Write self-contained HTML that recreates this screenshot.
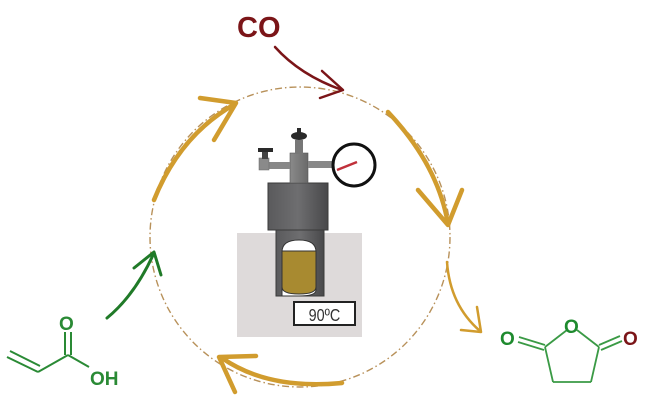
<!DOCTYPE html>
<html><head><meta charset="utf-8"><style>
html,body{margin:0;padding:0;background:#fff;}
svg{display:block;}
text{font-family:"Liberation Sans",sans-serif;font-weight:bold;}
</style></head><body>
<svg width="648" height="414" viewBox="0 0 648 414" xmlns="http://www.w3.org/2000/svg">
<defs>
<linearGradient id="g1" x1="0" x2="1"><stop offset="0" stop-color="#5a5a5c"/><stop offset="0.5" stop-color="#6e6e70"/><stop offset="1" stop-color="#48484a"/></linearGradient>
<linearGradient id="g2" x1="0" x2="1"><stop offset="0" stop-color="#8a8a8a"/><stop offset="1" stop-color="#6a6a6a"/></linearGradient>
</defs>
<circle cx="300" cy="237" r="150" fill="none" stroke="#b8915a" stroke-width="1.4" stroke-dasharray="7 3 1.5 3"/>
<rect x="237" y="233" width="125" height="104" fill="#dedada"/>
<rect x="276" y="228" width="48" height="68" fill="url(#g1)" stroke="#3a3a3a" stroke-width="1"/>
<path d="M282 296 L282 252 Q282 240 299 240 Q316 240 316 252 L316 290 Q316 296 299 296 Z" fill="#fff" stroke="#333" stroke-width="1"/>
<path d="M282 251 L316 251 L316 287 Q316 294 299 294 Q282 294 282 287 Z" fill="#a88a30" stroke="#333" stroke-width="1"/>
<rect x="268" y="183" width="60" height="47" fill="url(#g1)" stroke="#3a3a3a" stroke-width="1"/>
<rect x="290" y="153" width="18" height="30" fill="url(#g2)" stroke="#555" stroke-width="0.6"/>
<rect x="295" y="140" width="8" height="14" fill="#777"/>
<ellipse cx="299" cy="136" rx="8" ry="4" fill="#2a2a2a"/>
<rect x="297" y="128" width="4" height="6" fill="#2a2a2a"/>
<rect x="262" y="162" width="28" height="7" fill="#888"/>
<rect x="308" y="161" width="24" height="7" fill="#888"/>
<rect x="259" y="158" width="10" height="12" fill="#8a8a8a" stroke="#666" stroke-width="0.5"/>
<rect x="262" y="150" width="6" height="9" fill="#444"/>
<rect x="258" y="148" width="15" height="4" fill="#2a2a2a"/>
<circle cx="354" cy="165" r="21" fill="#fff" stroke="#111" stroke-width="3"/>
<line x1="337" y1="170" x2="357" y2="162" stroke="#c0303a" stroke-width="2.5"/>
<rect x="294" y="302" width="61" height="23" fill="#fff" stroke="#222" stroke-width="2"/>
<text x="324.5" y="321" font-size="18" text-anchor="middle" fill="#333" style="font-weight:normal" transform="translate(324.5 0) scale(0.8 1) translate(-324.5 0)">90ºC</text>
<g fill="none" stroke="#d19c2e" stroke-width="4.5" stroke-linecap="round" stroke-linejoin="round">
<path d="M154 200 Q180 135 235 104"/>
<path d="M200 98 L236 103 L214 140"/>
<path d="M388 112 Q438 165 448 224"/>
<path d="M418 190 L448 225 L462 190"/>
<path d="M342 383 Q268 390 222 358"/>
<path d="M256 356 L219 357 L235 392"/>
</g>
<g fill="none" stroke="#d19c2e" stroke-width="2.5" stroke-linecap="round" stroke-linejoin="round">
<path d="M447 262 Q450 305 480 331"/>
<path d="M477 307 L481 332 L461 330"/>
</g>
<g fill="none" stroke="#7b1518" stroke-width="2.5" stroke-linecap="round" stroke-linejoin="round">
<path d="M275 47 Q300 75 342 90"/>
<path d="M322 71 L343 90 L320 98"/>
</g>
<text x="237" y="37" font-size="29" fill="#7b1518">CO</text>
<g fill="none" stroke="#207a28" stroke-width="3" stroke-linecap="round" stroke-linejoin="round">
<path d="M107 318 Q135 295 154 253"/>
<path d="M134 268 L154 252 L161 275"/>
</g>
<g fill="none" stroke="#2a8a35" stroke-width="2">
<line x1="7" y1="357" x2="38" y2="372"/>
<line x1="10" y1="351" x2="40" y2="366"/>
<line x1="38" y1="372" x2="68" y2="355"/>
<line x1="65" y1="355" x2="65" y2="332"/>
<line x1="71" y1="355" x2="71" y2="332"/>
<line x1="68" y1="355" x2="89" y2="367"/>
</g>
<text x="59" y="330" font-size="19" fill="#2a8a35">O</text>
<text x="90" y="385" font-size="19" fill="#2a8a35">OH</text>
<g fill="none" stroke="#3a9a45" stroke-width="1.8">
<line x1="567" y1="330" x2="545" y2="347"/>
<line x1="577" y1="330" x2="599" y2="347"/>
<line x1="545" y1="347" x2="553" y2="382"/>
<line x1="599" y1="347" x2="591" y2="382"/>
<line x1="553" y1="382" x2="591" y2="382"/>
<line x1="519" y1="337" x2="545" y2="345"/>
<line x1="518" y1="342" x2="544" y2="350"/>
<line x1="599" y1="345" x2="620" y2="336"/>
<line x1="601" y1="350" x2="622" y2="341"/>
</g>
<text x="500" y="345" font-size="19" fill="#1e8a2e">O</text>
<text x="564" y="333" font-size="19" fill="#1e8a2e">O</text>
<text x="623" y="345" font-size="19" fill="#7b1518">O</text>
</svg>
</body></html>
